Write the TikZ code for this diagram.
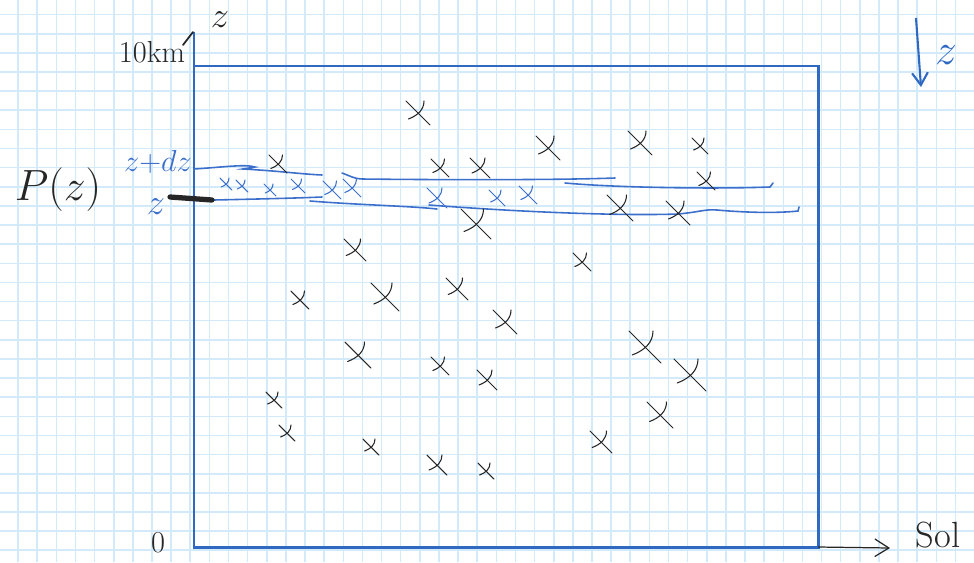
\documentclass[tikz,border=0pt]{standalone}
\usepackage{amsmath,amssymb}
\usepackage{xcolor}
\usepackage{tikz}
\usetikzlibrary{arrows.meta}
\definecolor{GridBlue}{HTML}{D2EAF9}
\definecolor{BoxBlue}{HTML}{2F69C2}
\definecolor{StripBlue}{HTML}{3B6FCB}
\definecolor{InkBlack}{HTML}{262626}

\begin{document}
\begin{tikzpicture}[x=0.02cm,y=-0.02cm,>=Latex,
    inkmark/.style={InkBlack,line width=0.6pt,line cap=round},
    bluemark/.style={StripBlue,line width=0.6pt,line cap=round},
    strip/.style={StripBlue,line width=0.9pt,line cap=round}]
    \useasboundingbox (0,0) rectangle (974,562);
    \fill[white] (0,0) rectangle (974,562);
    % squared paper
    \foreach \i in {0,...,50}
      \draw[GridBlue,line width=0.9pt] ({18.1+19.13*\i},0)--({18.1+19.13*\i},562);
    \foreach \j in {0,...,28}
      \draw[GridBlue,line width=0.9pt] (0,{14.6+19.13*\j})--(974,{14.6+19.13*\j});
    % domain and axes
    \draw[BoxBlue,line width=1.7pt] (194,66) rectangle (818,547);
    \draw[BoxBlue,line width=1.7pt] (194,66)--(194,32);
    \draw[InkBlack,line width=1pt,line cap=round] (183,45)--(193,32);
    \draw[InkBlack,line width=0.7pt,-{Straight Barb[length=8pt,width=10pt]}] (818,547)--(890,548);
    \node[InkBlack,font=\LARGE] (zero) at (158,543) {$0$};
    \node[InkBlack,font=\huge] (sol) at (938,535) {Sol};
    \node[InkBlack,font=\LARGE] (top) at (152,52) {$10\mathrm{km}$};
    \node[InkBlack,font=\huge] (zaxis) at (220,20) {$z$};
    \node[InkBlack,font=\fontsize{29}{32}\selectfont] (pz) at (58,190) {$P(z)$};
    % layer between z and z+dz
    \draw[strip] (194,169) .. controls (225,167) and (245,164) .. (255,167) -- (243,169) .. controls (280,171) and (300,174) .. (322,175);
    \draw[strip] (342,173) .. controls (350,176) and (355,179) .. (362,179) .. controls (450,180) and (560,180) .. (615,178);
    \draw[strip] (565,183) .. controls (620,188) and (720,189) .. (770,187) -- (773,183);
    \draw[strip] (214,200) .. controls (260,199) and (300,198) .. (322,197);
    \draw[strip] (310,201) .. controls (360,205) and (410,206) .. (437,209);
    \draw[strip] (429,205) .. controls (520,212) and (620,216) .. (678,214) .. controls (700,212) and (705,209) .. (717,210) .. controls (750,213) and (780,213) .. (798,211) -- (799,207);
    \draw[InkBlack,line width=3pt,line cap=round] (170,197)--(212,200);
    \node[StripBlue,font=\LARGE] (zdz) at (158,162) {$z{+}dz$};
    \node[StripBlue,font=\huge] (zlow) at (156,207) {$z$};
    % downward z at the top right
    \draw[BoxBlue,line width=1.2pt,-{Straight Barb[length=7pt,width=9pt]}] (916,18)--(921,87);
    \node[BoxBlue,font=\Huge] (zdown) at (946,55) {$z$};
    % particles
    \foreach \x/\y/\s in {418/113/12, 548/148/12, 640/143/12, 700/146/8, 278/164/9,
        440/168/9, 480/168/10, 706/181/9, 620/208/13, 678/213/12, 476/224/15,
        355/250/11, 582/262/9, 300/300/9, 385/297/14, 457/289/11, 505/322/12,
        358/355/13, 440/366/9, 487/380/10, 274/400/8, 287/433/8, 371/447/8,
        437/465/10, 486/471/8, 645/347/16, 690/375/16, 660/415/13, 601/442/11}
      \draw[inkmark] ({\x-\s},{\y-\s})--({\x+\s},{\y+\s})
        ({\x-0.8*\s},{\y+0.5*\s}) .. controls ({\x},{\y+0.2*\s}) and ({\x+0.5*\s},{\y-0.3*\s}) .. ({\x+0.5*\s},{\y-\s});
    \foreach \x/\y/\s in {226/184/6, 242/186/6, 270/190/6, 298/186/7, 332/190/9,
        352/188/9, 437/198/10, 497/198/8, 528/195/9}
      \draw[bluemark] ({\x-\s},{\y-\s})--({\x+\s},{\y+\s})
        ({\x-0.8*\s},{\y+0.5*\s}) .. controls ({\x},{\y+0.2*\s}) and ({\x+0.5*\s},{\y-0.3*\s}) .. ({\x+0.5*\s},{\y-\s});
  \end{tikzpicture}
\end{document}
